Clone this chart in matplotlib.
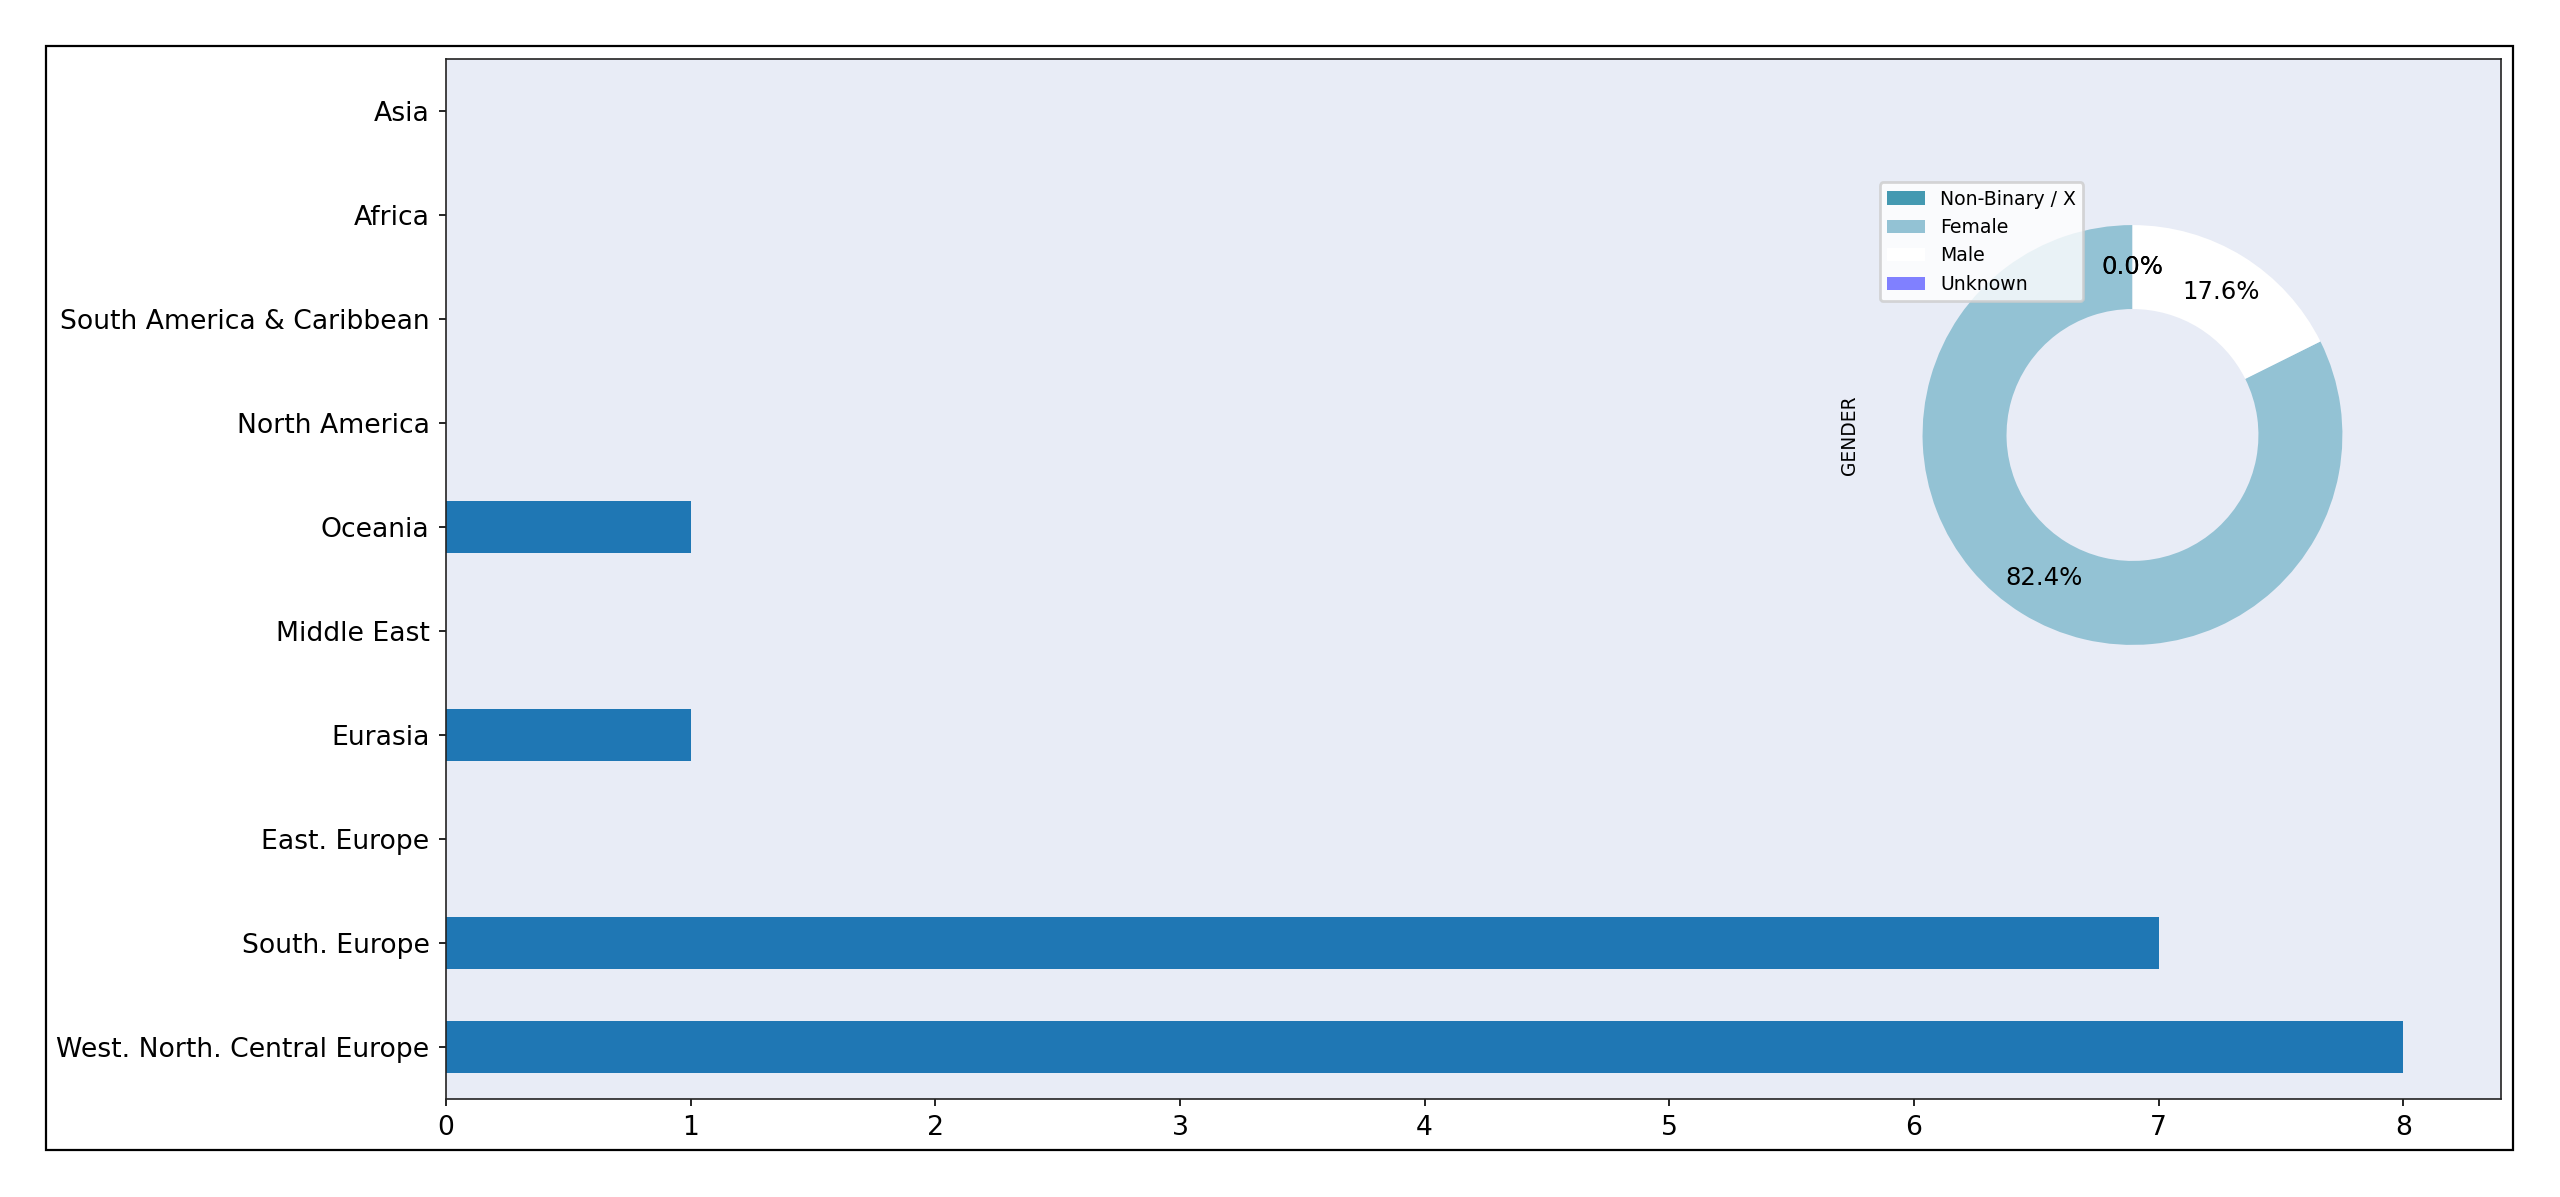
import matplotlib
matplotlib.use("Agg")
import matplotlib.pyplot as plt
from matplotlib.patches import Rectangle

# Members per region
regions = [
    "West. North. Central Europe",
    "South. Europe",
    "East. Europe",
    "Eurasia",
    "Middle East",
    "Oceania",
    "North America",
    "South America & Caribbean",
    "Africa",
    "Asia",
]
region_counts = [8, 7, 0, 1, 0, 1, 0, 0, 0, 0]

# Gender breakdown
genders = ["Non-Binary / X", "Female", "Male", "Unknown"]
gender_counts = [0, 14, 3, 0]
gender_colors = ["#4499b1", "#93c2d4", "#ffffff", "#8080ff"]

BG = "#e8ecf6"

fig = plt.figure(figsize=(12.8, 5.985), dpi=200)

# outer frame around the whole plot area
fig.patches.append(Rectangle((0.01797, 0.03926), 0.98164 - 0.01797, 0.96157 - 0.03926,
                             transform=fig.transFigure, fill=False,
                             edgecolor="black", linewidth=0.8, zorder=0))

ax = fig.add_axes([0.1742, 0.0819, 0.9770 - 0.1742, 0.9507 - 0.0819])
ax.set_facecolor(BG)
ypos = list(range(len(regions)))
ax.barh(ypos, region_counts, height=0.5, color="#1f77b4")
ax.set_yticks(ypos)
ax.set_yticklabels(regions)
ax.set_ylim(-0.5, len(regions) - 0.5)
ax.set_xlim(0, max(region_counts) * 1.05)
ax.set_xticks(range(0, 9))
ax.tick_params(axis="both", labelsize=9.6, length=2.4, width=0.6)
for s in ax.spines.values():
    s.set_linewidth(0.6)
    s.set_color("#222222")

# donut chart of gender in the upper right
pax = fig.add_axes([0.7305, 0.4169, 0.205, 0.4394])
wedges, texts, autotexts = pax.pie(
    gender_counts, colors=gender_colors, startangle=90,
    autopct="%1.1f%%", pctdistance=0.8,
    wedgeprops=dict(width=0.4), textprops=dict(fontsize=8.8),
)
pax.set_aspect("equal")
pax.set_xlim(-1.25, 1.25)
pax.set_ylim(-1.25, 1.25)
pax.set_ylabel("GENDER", fontsize=6.7)
pax.legend(wedges, genders, loc="upper left", fontsize=6.8, framealpha=0.8)

fig.savefig("out.png", dpi=200)
